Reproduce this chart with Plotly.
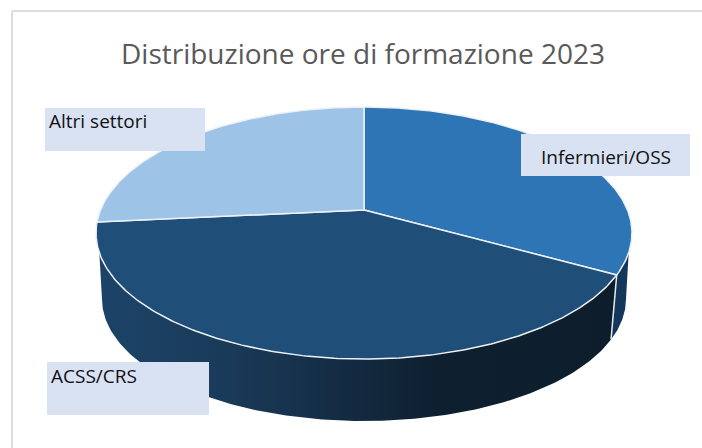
import numpy as np
import plotly.graph_objects as go

title = "Distribuzione ore di formazione 2023"
categories = ["Infermieri/OSS", "ACSS/CRS", "Altri settori"]
values = [30.4, 46.0, 23.6]
colors = ["#2E75B6", "#1F4E79", "#9DC3E6"]

W, H = 702, 448
CX, CY, RX, RY = 364, 233, 268, 126      # top rim ellipse
AX, AY = 364, 210                        # apex of the slices
BX, BY, BRX, BRY = 364, 299, 262, 122    # lower rim ellipse
VIS = 99                                 # rim angle where the side appears


def rim(a):
    r = np.radians(a)
    return CX + RX * np.sin(r), CY - RY * np.cos(r)


def low(a):
    r = np.radians(a)
    return BX + BRX * np.sin(r), BY - BRY * np.cos(r)


shares = np.array(values) / sum(values) * 360
edges = np.concatenate([[0], np.cumsum(shares)])

fig = go.Figure()

# side wall of the second slice (gradient, dark to the right)
a_top = np.linspace(edges[1], 360 - VIS, 160)
a_low = np.linspace(270, edges[1], 160)
xt, yt = rim(a_top)
xb, yb = low(a_low)
fig.add_trace(go.Scatter(
    x=np.concatenate([xt, xb, xt[:1]]), y=np.concatenate([yt, yb, yt[:1]]),
    mode="lines", line=dict(width=0), fill="toself", hoverinfo="skip",
    fillgradient=dict(type="horizontal", colorscale=[
        [0, "#1C4468"], [0.25, "#1A3A59"], [0.45, "#142D45"],
        [0.65, "#0E2030"], [1, "#0D1D2C"]]),
))

# side wall of the first slice (thin sliver on the right)
a_top = np.linspace(VIS, edges[1], 40)
a_low = np.linspace(edges[1], 90, 40)
xt, yt = rim(a_top)
xb, yb = low(a_low)
fig.add_trace(go.Scatter(
    x=np.concatenate([xt, xb, xt[:1]]), y=np.concatenate([yt, yb, yt[:1]]),
    mode="lines", line=dict(width=0), fill="toself", fillcolor="#12375A",
    hoverinfo="skip",
))

# divider on the side wall
x0, y0 = rim(edges[1])
x1, y1 = low(edges[1])
fig.add_trace(go.Scatter(x=[x0, x1], y=[y0, y1], mode="lines",
                         line=dict(color="#E4E9EE", width=1.5), hoverinfo="skip"))

# top faces
for name, start, stop, color in zip(categories, edges[:-1], edges[1:], colors):
    a = np.linspace(start, stop, 240)
    x, y = rim(a)
    fig.add_trace(go.Scatter(
        x=np.concatenate([[AX], x, [AX]]), y=np.concatenate([[AY], y, [AY]]),
        mode="lines", line=dict(color="#EDF1F6", width=1.5),
        fill="toself", fillcolor=color, name=name, hoverinfo="name",
    ))

shapes = [
    dict(type="line", x0=12, x1=12, y0=11, y1=H, line=dict(color="#DDDDDD", width=2)),
    dict(type="line", x0=12, x1=W, y0=11, y1=11, line=dict(color="#DDDDDD", width=2)),
]
for x0, x1, y0, y1 in [(521, 690, 134, 176), (47, 209, 362, 415), (45, 205, 108, 151)]:
    shapes.append(dict(type="rect", x0=x0, x1=x1, y0=y0, y1=y1,
                       fillcolor="#D9E2F3", line=dict(width=0), layer="above"))

annotations = [dict(x=363, y=53, text=title, showarrow=False, xanchor="center", yanchor="middle",
                    font=dict(family="Open Sans", size=28, color="#595959"))]
for label, x, y in zip(categories, [541, 51, 49], [157, 376, 121]):
    annotations.append(dict(x=x, y=y, text=label, showarrow=False, xanchor="left", yanchor="middle",
                            xshift=-2, font=dict(family="Open Sans", size=19, color="#111111")))

fig.update_layout(
    width=W, height=H, margin=dict(l=0, r=0, t=0, b=0), showlegend=False,
    paper_bgcolor="white", plot_bgcolor="white", shapes=shapes, annotations=annotations,
    xaxis=dict(range=[0, W], visible=False, fixedrange=True),
    yaxis=dict(range=[H, 0], visible=False, fixedrange=True),
)
fig.write_html("out.html", config={"displayModeBar": False},
               post_script="document.body.style.margin='0';document.documentElement.style.overflow='hidden';")
